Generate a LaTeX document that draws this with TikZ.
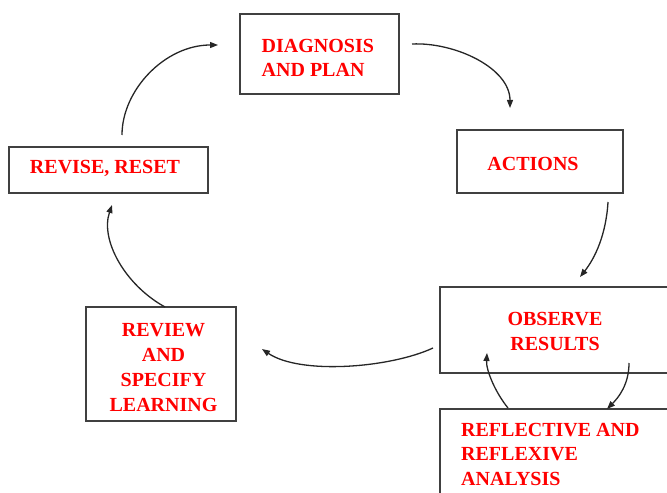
\documentclass[tikz,border=0pt]{standalone}
\usepackage{fontspec}
\setmainfont{Liberation Serif}
\usetikzlibrary{arrows.meta}
\begin{document}
\begin{tikzpicture}[x=1bp,y=-1bp,
  box/.style={draw=black!75,line width=1.8bp,rectangle,inner sep=0pt},
  lbl/.style={text=red,inner sep=0pt,font=\fontsize{20bp}{24.7bp}\selectfont\bfseries},
  arr/.style={draw=black!85,line width=1.3bp,-{Triangle[length=8bp,width=6bp]}}]
\useasboundingbox (0,0) rectangle (667,493);
\clip (0,0) rectangle (667,493);
% boxes
\node[box,minimum width=159bp,minimum height=80bp] (diag) at (319.5,54) {};
\node[box,minimum width=166bp,minimum height=63bp] (act) at (540,161.5) {};
\node[box,minimum width=199bp,minimum height=46bp] (rev) at (108.5,170) {};
\node[box,minimum width=230bp,minimum height=86bp] (obs) at (555,330) {};
\node[box,minimum width=230bp,minimum height=100bp] (refl) at (555,459) {};
\node[box,minimum width=150bp,minimum height=114bp] (revw) at (161,364) {};
% texts
\node[lbl,align=left,anchor=west] (diagt) at (261.5,58) {DIAGNOSIS\\AND PLAN};
\node[lbl] (actt) at (533,163.5) {ACTIONS};
\node[lbl,text depth=0pt] (revt) at (105,167) {REVISE, RESET};
\node[lbl,align=center] (obst) at (555,331.25) {OBSERVE\\RESULTS};
\node[lbl,align=left,anchor=west] (reflt) at (461,454.2) {REFLECTIVE AND\\REFLEXIVE\\ANALYSIS};
\node[lbl,align=center] (revwt) at (163.5,367.5) {REVIEW\\AND\\SPECIFY\\LEARNING};
% connector ends
\coordinate (a1s) at (412,44);   \coordinate (a1e) at (510,108);
\coordinate (a2s) at (608,202);  \coordinate (a2e) at (580,277);
\coordinate (a3s) at (433,348);  \coordinate (a3e) at (262,349);
\coordinate (a4s) at (165,307);  \coordinate (a4e) at (112,205);
\coordinate (a5s) at (122,135);  \coordinate (a5e) at (218,45);
\coordinate (a6s) at (508,408);  \coordinate (a6e) at (487,353);
\coordinate (a7s) at (629,363);  \coordinate (a7e) at (607,409);
% connectors
\draw[arr] (a1s) .. controls (455,42) and (510,68) .. (a1e);
\draw[arr] (a2s) .. controls (606,235) and (595,258) .. (a2e);
\draw[arr] (a3s) .. controls (390,368) and (300,375) .. (a3e);
\draw[arr] (a4s) .. controls (125,285) and (100,240) .. (a4e);
\draw[arr] (a5s) .. controls (122,90) and (165,45) .. (a5e);
\draw[arr] (a6s) .. controls (495,392) and (486,370) .. (a6e);
\draw[arr] (a7s) .. controls (629,385) and (618,398) .. (a7e);
\end{tikzpicture}
\end{document}
